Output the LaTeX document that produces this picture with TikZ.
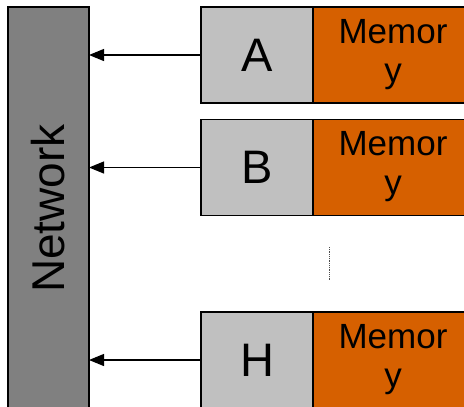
\documentclass[tikz,border=0pt]{standalone}
\usepackage{fontspec}
\setmainfont{Liberation Sans}
\usepackage{graphicx}
\usetikzlibrary{arrows.meta}
\definecolor{netgray}{RGB}{128,128,128}
\definecolor{cpugray}{RGB}{192,192,192}
\definecolor{memorange}{RGB}{214,96,0}
\newcommand{\memtext}{\raisebox{-3pt}{\begin{tabular}{@{}c@{}}Memor\\y\end{tabular}}}
\begin{document}
\begin{tikzpicture}[x=1pt,y=-1pt,
  box/.style={draw=black,line width=1.6pt,inner sep=0pt,outer sep=0pt},
  netbox/.style={box,fill=netgray,minimum width=81pt,minimum height=403pt,font=\fontsize{46}{50}\selectfont},
  cpubox/.style={box,fill=cpugray,minimum width=112pt,minimum height=96pt,font=\fontsize{47}{50}\selectfont},
  membox/.style={box,fill=memorange,minimum width=160pt,minimum height=96pt,font=\fontsize{35}{39}\selectfont},
  link/.style={line width=1.2pt,-{Triangle[length=15pt,width=12pt]}}
]
\useasboundingbox (0,0) rectangle (464,407);
\clip (0,0) rectangle (464,407);
\node[netbox] (net) at (48.5,208.5) {\rotatebox{90}{Network}};
\node[cpubox] (A) at (257,55) {A};
\node[membox,anchor=west] (MA) at (A.east) {\memtext};
\node[cpubox] (B) at (257,167.5) {B};
\node[membox,anchor=west] (MB) at (B.east) {\memtext};
\node[cpubox] (H) at (257,360) {H};
\node[membox,anchor=west] (MH) at (H.east) {\memtext};
\draw[link] (A.west) -- (A.west -| net.east);
\draw[link] (B.west) -- (B.west -| net.east);
\draw[link] (H.west) -- (H.west -| net.east);
\coordinate (d1) at (329,247);
\coordinate (d2) at (329,280);
\draw[line width=0.8pt,black!70,dash pattern=on 0.8pt off 1pt] (d1) -- (d2);
\end{tikzpicture}
\end{document}
